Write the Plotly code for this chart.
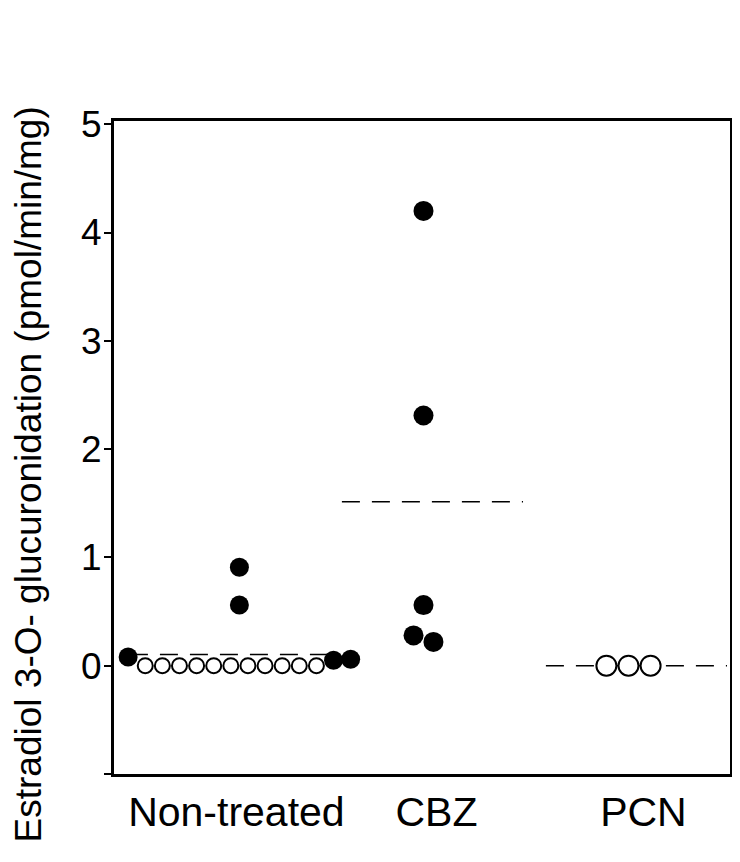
import plotly.graph_objects as go
import numpy as np

# ---- data ----
groups = ["Non-treated", "CBZ", "PCN"]
nontreated_values = [0.08, 0, 0, 0, 0, 0, 0, 0, 0, 0, 0, 0, 0.05, 0.06, 0.91, 0.56]
nontreated_detected = [True, False, False, False, False, False, False, False, False, False, False, False,
                       True, True, True, True]
cbz_values = [4.20, 2.31, 0.56, 0.28, 0.22]
cbz_detected = [True, True, True, True, True]
pcn_values = [0, 0, 0]
pcn_detected = [False, False, False]
y_ticks = [-1, 0, 1, 2, 3, 4, 5]
y_ticktext = ["", "0", "1", "2", "3", "4", "5"]
y_title = "Estradiol 3-O- glucuronidation (pmol/min/mg)"

# ---- layout constants (figure sits 8px in from page corner) ----
W, H = 732, 854
ML, MR, MT, MB = 106, 7, 113, 88
PW = W - ML - MR
PH = H - MT - MB
YMIN, YMAX = -1, 5.03
px_per_unit = PH / (YMAX - YMIN)
group_centers = [126, 311, 517]      # px from plot left
label_centers = [123, 324, 532]
mean_centers = [121, 320, 525]
mean_half = [105, 91, 91]
filled_size = [19, 20, 20]
open_size = [15, 15, 20]

data = [(nontreated_values, nontreated_detected),
        (cbz_values, cbz_detected),
        (pcn_values, pcn_detected)]


def swarm(values, center, diam):
    """Place overlapping points side by side (dot-plot layout)."""
    vals = np.array(values, dtype=float)
    order = np.argsort(vals, kind="stable")
    rows, cur = [], [order[0]]
    for i in order[1:]:
        if (vals[i] - vals[cur[-1]]) * px_per_unit < diam:
            cur.append(i)
        else:
            rows.append(cur)
            cur = [i]
    rows.append(cur)
    xs = np.zeros(len(vals))
    for r in rows:
        r = sorted(r)  # keep data order within a row
        n = len(r)
        for k, idx in enumerate(r):
            xs[idx] = center + (k - (n - 1) / 2) * diam
    return xs


fig = go.Figure()

# mean lines
for gi, (vals, det) in enumerate(data):
    m = float(np.mean(vals))
    c = mean_centers[gi]
    fig.add_trace(go.Scatter(x=[c - mean_half[gi], c + mean_half[gi]], y=[m, m], mode="lines",
                             line=dict(color="black", width=1.5, dash="18px,12px"),
                             showlegend=False, hoverinfo="skip"))

for gi, (vals, det) in enumerate(data):
    det = np.array(det)
    diam = (open_size[gi] + 2.2) if (~det).any() else filled_size[gi]
    xs = swarm(vals, group_centers[gi], diam)
    vals = np.array(vals)
    if (~det).any():
        fig.add_trace(go.Scatter(x=xs[~det], y=vals[~det], mode="markers",
                                 marker=dict(size=open_size[gi], color="white",
                                             line=dict(color="black", width=2)),
                                 showlegend=False))
    if det.any():
        fig.add_trace(go.Scatter(x=xs[det], y=vals[det], mode="markers",
                                 marker=dict(size=filled_size[gi], color="black",
                                             line=dict(color="black", width=0)),
                                 showlegend=False))

font = "Liberation Sans, Arial, Helvetica, sans-serif"
fig.update_layout(
    width=W, height=H, margin=dict(l=ML, r=MR, t=MT, b=MB),
    paper_bgcolor="white", plot_bgcolor="white",
    font=dict(family=font, color="black", size=36),
    xaxis=dict(range=[0, PW], showgrid=False, zeroline=False, showline=True, linecolor="black",
               linewidth=3, mirror=True, tickvals=label_centers, ticktext=groups, ticks="",
               tickfont=dict(size=41), ticklabelstandoff=0),
    yaxis=dict(range=[YMIN, YMAX], showgrid=False, zeroline=False, showline=True, linecolor="black",
               linewidth=3, mirror=True, tickvals=y_ticks, ticktext=y_ticktext, ticks="outside",
               ticklen=7, tickwidth=2, tickcolor="black", tickfont=dict(size=37),
               ticklabelstandoff=-5),
    annotations=[dict(text=y_title, textangle=-90, xref="paper", yref="paper",
                      x=(21 - ML) / PW, y=(MT + PH - 466) / PH, xanchor="center", yanchor="middle",
                      showarrow=False, font=dict(size=37))],
)
fig.write_html("out.html")
